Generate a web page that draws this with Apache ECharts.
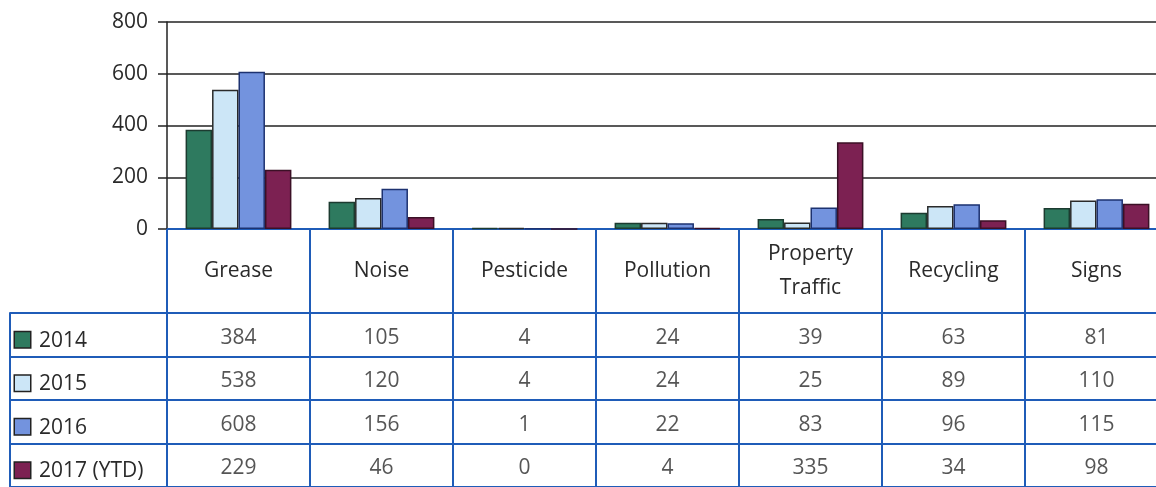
<!DOCTYPE html>
<html>
<head>
<meta charset="utf-8">
<script src="https://cdn.jsdelivr.net/npm/echarts@6/dist/echarts.min.js"></script>
<style>
  html, body { margin: 0; padding: 0; background: #fff; overflow: hidden; }
  #chart { width: 1172px; height: 487px; }
</style>
</head>
<body>
<div id="chart"></div>
<script>
const categories = ['Grease', 'Noise', 'Pesticide', 'Pollution', 'Property Traffic', 'Recycling', 'Signs']
const years = ['2014', '2015', '2016', '2017 (YTD)']
const values2014 = [384, 105, 4, 24, 39, 63, 81]
const values2015 = [538, 120, 4, 24, 25, 89, 110]
const values2016 = [608, 156, 1, 22, 83, 96, 115]
const values2017 = [229, 46, 0, 4, 335, 34, 98]
const yTicks = [0, 200, 400, 600, 800]

const fillColors = ['#2e7a5f', '#cce6f7', '#7393de', '#7c2152']
const borderColors = ['#1c3b30', '#2a2a2a', '#1d3270', '#3b1026']
const tableBlue = '#1f5cb8'
const textColor = '#2a2a2a'
const font = 'Open Sans'

const allValues = [values2014, values2015, values2016, values2017]

const barSeries = allValues.map((vals, i) => ({
  name: years[i],
  type: 'bar',
  xAxisIndex: 0,
  yAxisIndex: 0,
  data: vals,
  barGap: '0%',
  barCategoryGap: '26%',
  itemStyle: {
    color: fillColors[i],
    borderColor: borderColors[i],
    borderWidth: 1.5,
  },
}))

// table cell texts
const cellData = []
allValues.forEach((vals, r) => {
  vals.forEach((v, c) => {
    cellData.push([c, r, v])
  })
})

const rich = {}
fillColors.forEach((c, i) => {
  rich['b' + i] = {
    width: 15,
    height: 15,
    backgroundColor: c,
    borderColor: '#222',
    borderWidth: 1.5,
  }
})
rich.t = { fontFamily: font, fontSize: 21, color: textColor, padding: [2, 0, 0, 9] }

const option = {
  animation: false,
  grid: [
    { left: 167, top: 22, width: 1001, height: 207 },
    { left: 167, top: 313, width: 1001, height: 181 },
  ],
  xAxis: [
    {
      type: 'category',
      gridIndex: 0,
      data: categories,
      axisLine: { lineStyle: { color: tableBlue, width: 2 } },
      axisTick: { show: false },
      axisLabel: {
        interval: 0,
        margin: 42,
        verticalAlign: 'middle',
        lineHeight: 34,
        fontFamily: font,
        fontSize: 21,
        color: textColor,
        formatter: (v) => v.replace(' ', '\n'),
      },
    },
    {
      type: 'category',
      gridIndex: 1,
      position: 'top',
      data: categories,
      axisLine: { lineStyle: { color: tableBlue, width: 2 } },
      axisTick: { show: true, interval: 0, length: 84, lineStyle: { color: tableBlue, width: 2 } },
      axisLabel: { show: false },
      splitLine: { show: true, interval: 0, lineStyle: { color: tableBlue, width: 2 } },
    },
  ],
  yAxis: [
    {
      type: 'value',
      gridIndex: 0,
      min: 0,
      max: 800,
      interval: 200,
      axisLine: { show: true, lineStyle: { color: '#222', width: 1.5 } },
      axisTick: { show: true, length: 9, lineStyle: { color: '#222', width: 1.5 } },
      axisLabel: {
        margin: 19,
        fontFamily: font,
        fontSize: 21,
        color: textColor,
        formatter: (v) => (yTicks.includes(v) ? String(v) : ''),
      },
      splitLine: { lineStyle: { color: '#222', width: 1.5 } },
    },
    {
      type: 'category',
      gridIndex: 1,
      inverse: true,
      data: years,
      axisLine: { show: true, lineStyle: { color: tableBlue, width: 2 } },
      axisTick: { show: true, interval: 0, length: 157, lineStyle: { color: tableBlue, width: 2 } },
      axisLabel: {
        align: 'left',
        margin: 152,
        padding: [10, 0, 0, 0],
        formatter: (v, i) => '{b' + i + '|}{t|' + v + '}',
        rich: rich,
      },
      splitLine: { show: true, interval: 0, lineStyle: { color: tableBlue, width: 2 } },
    },
    {
      type: 'category',
      gridIndex: 1,
      inverse: true,
      data: years,
      position: 'left',
      offset: 157,
      axisLine: { show: true, lineStyle: { color: tableBlue, width: 2 } },
      axisTick: { show: false },
      axisLabel: { show: false },
    },
  ],
  series: [
    ...barSeries,
    {
      type: 'scatter',
      xAxisIndex: 1,
      yAxisIndex: 1,
      data: cellData,
      symbolSize: 1,
      itemStyle: { color: 'rgba(0,0,0,0)' },
      label: {
        show: true,
        position: 'inside',
        offset: [0, 3],
        fontFamily: font,
        fontSize: 21,
        color: textColor,
        formatter: (p) => String(p.value[2]),
      },
      silent: true,
    },
  ],
}

const chart = echarts.init(document.getElementById('chart'))
chart.setOption(option)
</script>
</body>
</html>
